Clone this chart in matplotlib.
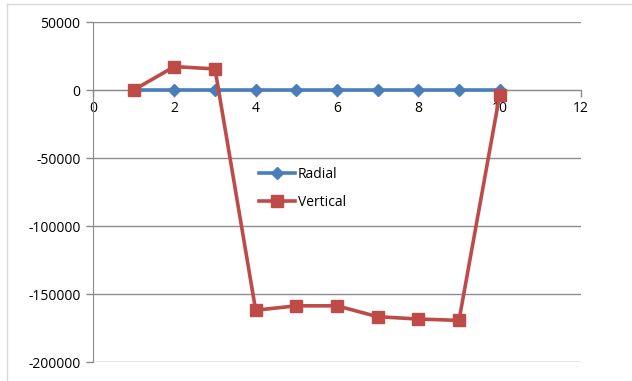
import matplotlib
matplotlib.use("Agg")
import matplotlib.pyplot as plt
from matplotlib.lines import Line2D

plt.rcParams['font.family'] = ['Open Sans', 'DejaVu Sans']

# position along the member and the two stress components
pos = [1, 2, 3, 4, 5, 6, 7, 8, 9, 10]
radial = [0, 0, 0, 0, 0, 0, 0, 0, 0, 0]
vertical = [0, 17200, 15500, -161900, -158700, -158700, -166700, -168400, -169400, -3700]

xticks = [0, 2, 4, 6, 8, 10, 12]
yticks = [-200000, -150000, -100000, -50000, 0, 50000]

blue = '#4a7ebb'
red = '#be4b48'
grid = '#8c8c8c'

fig = plt.figure(figsize=(6.32, 3.81), dpi=100)
ax = fig.add_axes([93/632, 1 - 362/381, (581 - 93)/632, (362 - 22)/381])

# frame of the chart object
fig.add_artist(Line2D([7/632, 1], [1 - 4/381, 1 - 4/381], color='#d9d9d9', lw=1))
fig.add_artist(Line2D([7/632, 7/632], [0, 1 - 4/381], color='#d9d9d9', lw=1))

ax.plot(pos, radial, color=blue, lw=2.6, marker='D', ms=6, label='Radial', zorder=3)
ax.plot(pos, vertical, color=red, lw=2.6, marker='s', ms=8, label='Vertical', zorder=4)

ax.set_xlim(0, 12)
ax.set_ylim(-200000, 50000)
ax.set_xticks(xticks)
ax.set_yticks(yticks)
ax.set_xticklabels([str(v) for v in xticks])
ax.set_yticklabels([str(v) for v in yticks])

ax.yaxis.grid(True, color=grid, lw=1)
ax.set_axisbelow(True)

for s in ['top', 'right']:
    ax.spines[s].set_visible(False)
ax.spines['left'].set_position(('data', 0))
ax.spines['bottom'].set_position(('data', 0))
ax.spines['left'].set_color(grid)
ax.spines['bottom'].set_color(grid)
ax.tick_params(axis='both', colors=grid, labelcolor='black', labelsize=10, length=5, width=1)
ax.tick_params(axis='y', pad=4)
ax.tick_params(axis='x', pad=3)

ax.legend(loc='upper left', bbox_to_anchor=(246/632, 1 - 154/381),
          bbox_transform=fig.transFigure, frameon=False, fontsize=10,
          handlelength=2.6, labelspacing=0.95, handletextpad=0.25)

fig.savefig('out.png', dpi=100, facecolor='white')
